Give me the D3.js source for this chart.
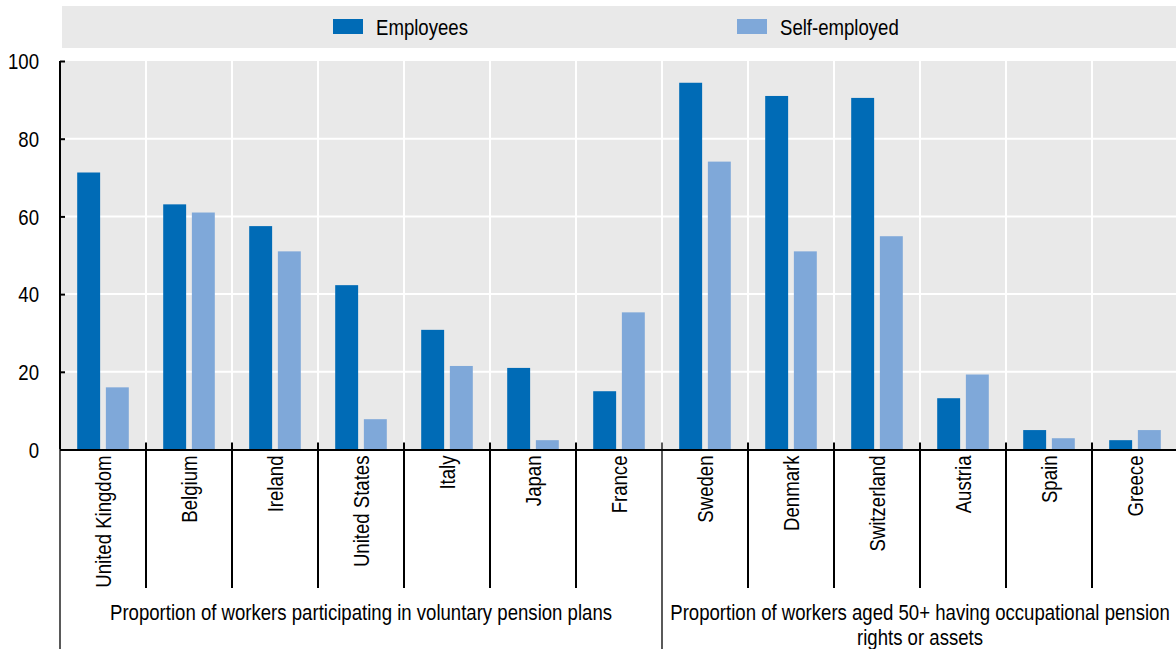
<!DOCTYPE html>
<html>
<head>
<meta charset="utf-8">
<script src="https://cdn.jsdelivr.net/npm/d3@7"></script>
<style>
  html, body { margin: 0; padding: 0; background: #fff; }
  svg { display: block; }
  text { font-family: "Liberation Sans Narrow", "Arial Narrow", "Liberation Sans", Arial, sans-serif; fill: #000; }
</style>
</head>
<body>
<svg id="chart" width="1176" height="649"></svg>
<script>
const categories = ["United Kingdom", "Belgium", "Ireland", "United States", "Italy", "Japan", "France",
                    "Sweden", "Denmark", "Switzerland", "Austria", "Spain", "Greece"];
const seriesNames = ["Employees", "Self-employed"];
const employees    = [71.3, 63.1, 57.5, 42.3, 30.8, 21.0, 15.0, 94.4, 91.0, 90.5, 13.2, 5.0, 2.4];
const selfEmployed = [16.0, 61.0, 51.0, 7.8, 21.5, 2.4, 35.3, 74.1, 51.0, 54.9, 19.3, 2.9, 5.0];
const groupSizes = [7, 6];
const groupLabels = [
  ["Proportion of workers participating in voluntary pension plans"],
  ["Proportion of workers aged 50+ having occupational pension", "rights or assets"]
];
const yTicks = [0, 20, 40, 60, 80, 100];
const colors = ["#006bb6", "#7fa8d9"];

(function () {
const svg = d3.select("#chart");
const pLeft = 60, pRight = 1178, pTop = 61, pBottom = 449.5;
const FS = 22;
const SX = 0.845; // horizontal condensing to mimic a narrow typeface

function addText(parent, x, y, str, anchor, rotate, dy) {
  const g = parent.append("g")
    .attr("transform", `translate(${x},${y})${rotate ? ` rotate(${rotate})` : ""} scale(${SX},1)`);
  return g.append("text").attr("text-anchor", anchor || "start").attr("font-size", FS)
    .attr("dy", dy || 0).text(str);
}

const x0 = d3.scaleBand().domain(categories).range([pLeft, pRight]).padding(0);
const x1 = d3.scaleBand().domain(seriesNames).range([0, x0.bandwidth()]).paddingInner(0.2).paddingOuter(0.6);
const y = d3.scaleLinear().domain([0, 100]).range([pBottom, pTop]);

// legend band
svg.append("rect").attr("x", 62).attr("y", 6).attr("width", 1176 - 62).attr("height", 42).attr("fill", "#e9e9e9");
const legendX = [333, 737];
seriesNames.forEach((s, i) => {
  svg.append("rect").attr("x", legendX[i]).attr("y", 19).attr("width", 30).attr("height", 15).attr("fill", colors[i]);
  addText(svg, legendX[i] + 43, 34.5, s, "start");
});

// plot background
svg.append("rect").attr("x", pLeft).attr("y", pTop).attr("width", pRight - pLeft).attr("height", pBottom - pTop).attr("fill", "#e9e9e9");

// horizontal gridlines
svg.append("g").selectAll("line").data(yTicks.filter(d => d > 0 && d < 100)).join("line")
  .attr("x1", pLeft).attr("x2", pRight).attr("y1", d => y(d)).attr("y2", d => y(d))
  .attr("stroke", "#fff").attr("stroke-width", 2);

// vertical gridlines
svg.append("g").selectAll("line").data(categories.slice(1)).join("line")
  .attr("x1", d => x0(d)).attr("x2", d => x0(d)).attr("y1", pTop).attr("y2", pBottom)
  .attr("stroke", "#fff").attr("stroke-width", 2);

// bars
const rows = categories.map((c, i) => ({ c, vals: [employees[i], selfEmployed[i]] }));
const gBars = svg.append("g").selectAll("g").data(rows).join("g")
  .attr("transform", d => `translate(${x0(d.c)},0)`);
gBars.selectAll("rect").data(d => d.vals.map((v, k) => ({ k, v }))).join("rect")
  .attr("x", d => x1(seriesNames[d.k]))
  .attr("width", x1.bandwidth())
  .attr("y", d => y(d.v))
  .attr("height", d => y(0) - y(d.v))
  .attr("fill", d => colors[d.k]);

// y axis
const yAxis = d3.axisLeft(y).tickValues(yTicks).tickSize(-5).tickPadding(21).tickFormat(d3.format("d"));
const gy = svg.append("g").attr("transform", `translate(${pLeft},0)`).call(yAxis);
gy.select(".domain").attr("stroke", "#000").attr("stroke-width", 2).attr("d", `M0,${pTop}V${pBottom}`);
gy.selectAll(".tick line").attr("stroke", "#000").attr("stroke-width", 2);
gy.selectAll(".tick text")
  .attr("font-size", FS).attr("font-family", null).attr("fill", "#000")
  .attr("x", 0).attr("dy", "0.35em").attr("text-anchor", "end")
  .attr("transform", `translate(-21,0) scale(${SX},1)`);

// x axis line
svg.append("line").attr("x1", pLeft).attr("x2", 1176).attr("y1", pBottom + 0.5).attr("y2", pBottom + 0.5)
  .attr("stroke", "#000").attr("stroke-width", 2);

// category separators
const groupStarts = [];
let acc = 0;
groupSizes.forEach(n => { groupStarts.push(acc); acc += n; });
categories.forEach((c, i) => {
  if (i === 0) return;
  const isGroup = groupStarts.includes(i);
  svg.append("line").attr("x1", x0(c)).attr("x2", x0(c))
    .attr("y1", pBottom - 7).attr("y2", isGroup ? 649 : 588)
    .attr("stroke", "#000").attr("stroke-width", isGroup ? 1.3 : 2);
});
svg.append("line").attr("x1", pLeft).attr("x2", pLeft).attr("y1", pBottom).attr("y2", 649)
  .attr("stroke", "#000").attr("stroke-width", 1.3);

// category labels
const gCat = svg.append("g");
categories.forEach(c => {
  addText(gCat, x0(c) + x0.bandwidth() / 2, pBottom + 6, c, "end", -90, "0.35em");
});

// group labels
groupSizes.forEach((n, gi) => {
  const startCat = categories[groupStarts[gi]];
  const endCat = categories[groupStarts[gi] + n - 1];
  const cx = (x0(startCat) + x0(endCat) + x0.bandwidth()) / 2;
  groupLabels[gi].forEach((line, li) => {
    addText(svg, cx, 620 + li * 25, line, "middle");
  });
});
})();
</script>
</body>
</html>
